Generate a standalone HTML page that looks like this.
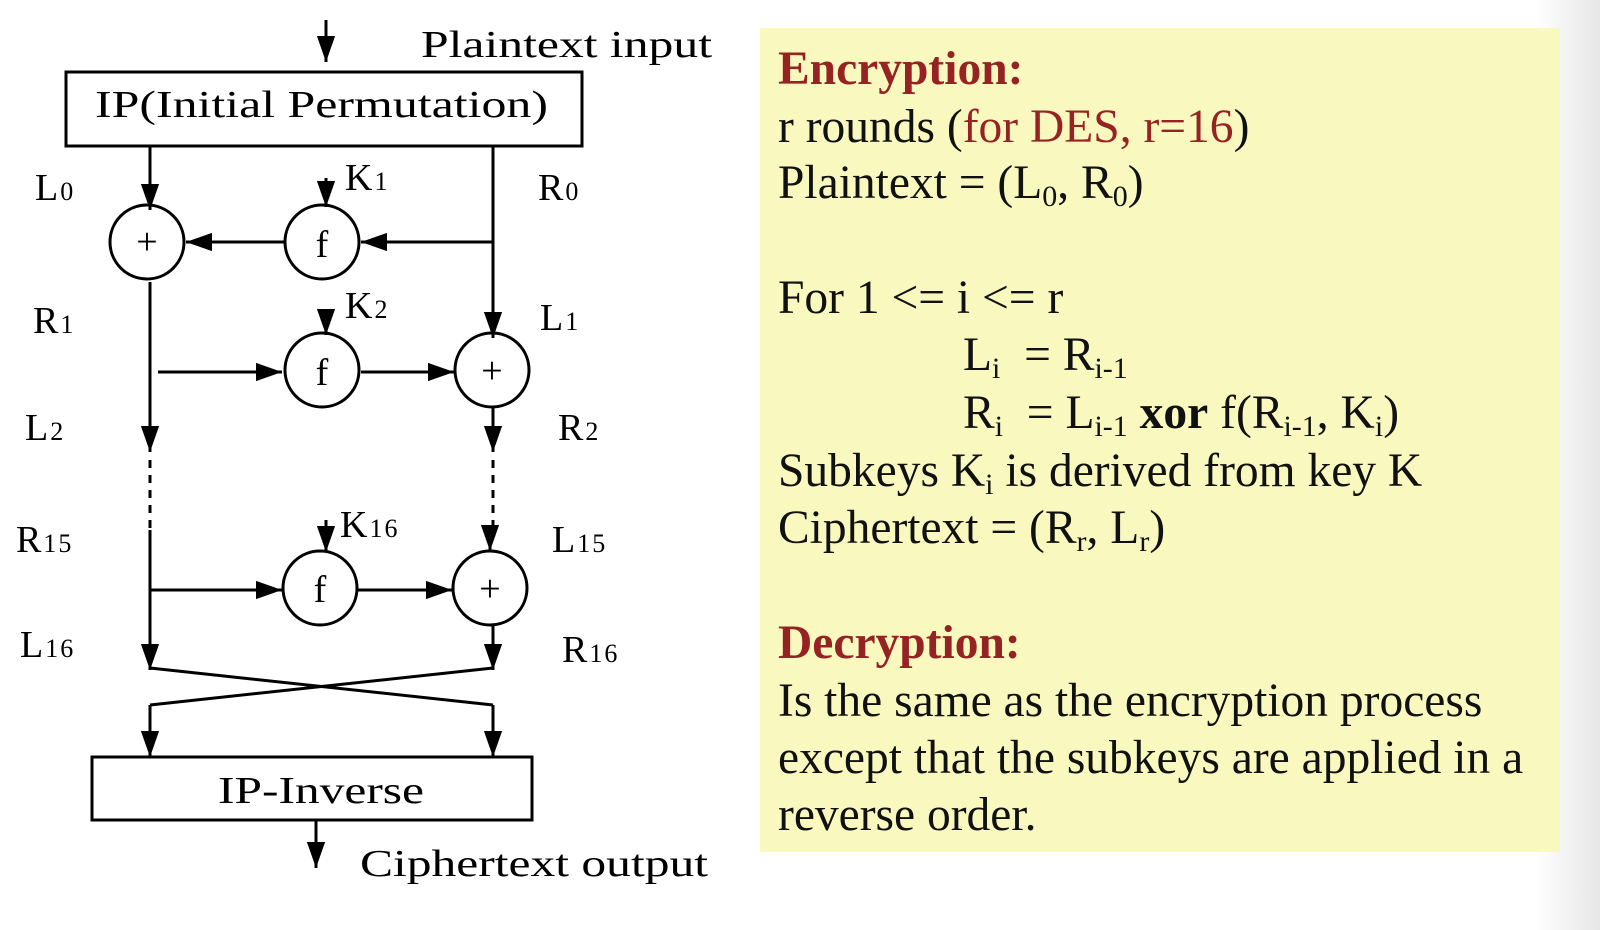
<!DOCTYPE html>
<html><head><meta charset="utf-8"><style>
body{margin:0;width:1600px;height:930px;background:#fff;overflow:hidden;position:relative;font-family:"Liberation Serif",serif}
#shade{position:absolute;left:1535px;top:0;width:65px;height:930px;background:linear-gradient(to right,#fff,#e6e6e6)}
#box{position:absolute;left:760px;top:28px;width:800px;height:824px;background:#f9f9bf}
.t{position:absolute;left:778px;font-size:47.5px;color:#111;white-space:nowrap;line-height:1}
.red{color:#962323}
.h{font-weight:bold;color:#962323}
sub{font-size:30px;vertical-align:-8px;line-height:0}
</style></head><body>
<div id="shade"></div>
<div id="box"></div>
<div class="t h" style="top:46px">Encryption:</div>
<div class="t" style="top:104px">r rounds (<span class="red">for DES, r=16</span>)</div>
<div class="t" style="top:160px">Plaintext = (L<sub>0</sub>, R<sub>0</sub>)</div>
<div class="t" style="top:275px">For 1 &lt;= i &lt;= r</div>
<div class="t" style="top:332px;left:963px">L<sub>i</sub>&nbsp; = R<sub>i-1</sub></div>
<div class="t" style="top:390px;left:963px">R<sub>i</sub>&nbsp; = L<sub>i-1</sub> <b>xor</b> f(R<sub>i-1</sub>, K<sub>i</sub>)</div>
<div class="t" style="top:448px">Subkeys K<sub>i</sub> is derived from key K</div>
<div class="t" style="top:505px">Ciphertext = (R<sub>r</sub>, L<sub>r</sub>)</div>
<div class="t h" style="top:620px">Decryption:</div>
<div class="t" style="top:678px">Is the same as the encryption process</div>
<div class="t" style="top:735px">except that the subkeys are applied in a</div>
<div class="t" style="top:792px">reverse order.</div>

<svg width="760" height="930" style="position:absolute;left:0;top:0">
<defs>
<marker id="b" viewBox="0 0 10 10" refX="10" refY="5" markerWidth="26" markerHeight="26" markerUnits="userSpaceOnUse" orient="auto"><path d="M0,1.5L10,5L0,8.5z" fill="#000"/></marker></defs>
<g stroke="#000" stroke-width="3" fill="none">
<line x1="326" y1="20" x2="326" y2="62" marker-end="url(#b)"/>
<rect x="66" y="72" width="516" height="74"/>
<line x1="150" y1="146" x2="150" y2="210" marker-end="url(#b)"/>
<line x1="493" y1="146" x2="493" y2="338" marker-end="url(#b)"/>
<circle cx="147" cy="242" r="37"/><circle cx="322" cy="242" r="37"/>
<line x1="326" y1="178" x2="326" y2="207" marker-end="url(#b)"/>
<line x1="493" y1="242" x2="361" y2="242" marker-end="url(#b)"/>
<line x1="284" y1="242" x2="186" y2="242" marker-end="url(#b)"/>
<line x1="150" y1="282" x2="150" y2="452" marker-end="url(#b)"/>
<line x1="158" y1="372" x2="282" y2="372" marker-end="url(#b)"/>
<circle cx="322" cy="370" r="37"/><circle cx="492" cy="370" r="37"/>
<line x1="326" y1="310" x2="326" y2="335" marker-end="url(#b)"/>
<line x1="361" y1="372" x2="454" y2="372" marker-end="url(#b)"/>
<line x1="493" y1="407" x2="493" y2="452" marker-end="url(#b)"/>
<line x1="150" y1="460" x2="150" y2="530" stroke-dasharray="8,7"/>
<line x1="493" y1="460" x2="493" y2="530" stroke-dasharray="8,7"/>
<line x1="326" y1="520" x2="326" y2="552" marker-end="url(#b)"/>
<circle cx="320" cy="588" r="37"/><circle cx="490" cy="588" r="37"/>
<line x1="490" y1="530" x2="490" y2="551" marker-end="url(#b)"/>
<line x1="150" y1="530" x2="150" y2="670" marker-end="url(#b)"/>
<line x1="150" y1="590" x2="282" y2="590" marker-end="url(#b)"/>
<line x1="358" y1="590" x2="452" y2="590" marker-end="url(#b)"/>
<line x1="493" y1="625" x2="493" y2="670" marker-end="url(#b)"/>
<line x1="150" y1="668" x2="493" y2="705"/><line x1="493" y1="668" x2="150" y2="705"/>
<line x1="150" y1="705" x2="150" y2="757" marker-end="url(#b)"/>
<line x1="493" y1="705" x2="493" y2="757" marker-end="url(#b)"/>
<rect x="92" y="757" width="440" height="63"/>
<line x1="316" y1="820" x2="316" y2="868" marker-end="url(#b)"/>
</g>
<g font-family="Liberation Serif,serif" fill="#000" font-size="38">
<text x="421" y="57" textLength="291" lengthAdjust="spacingAndGlyphs">Plaintext input</text>
<text x="95" y="117" textLength="453" lengthAdjust="spacingAndGlyphs">IP(Initial Permutation)</text>
<text x="218" y="803" textLength="206" lengthAdjust="spacingAndGlyphs">IP-Inverse</text>
<text x="360" y="876" textLength="348" lengthAdjust="spacingAndGlyphs">Ciphertext output</text>
<g font-size="38" text-anchor="middle"><text x="147" y="254">+</text><text x="322" y="257">f</text><text x="322" y="385">f</text><text x="492" y="383">+</text><text x="320" y="602">f</text><text x="490" y="601">+</text></g>
<g font-size="38" letter-spacing="2">
<text x="345" y="190">K<tspan font-size="26">1</tspan></text>
<text x="345" y="318">K<tspan font-size="26">2</tspan></text>
<text x="340" y="537">K<tspan font-size="26">16</tspan></text>
<text x="35" y="200">L<tspan font-size="26">0</tspan></text>
<text x="538" y="200">R<tspan font-size="26">0</tspan></text>
<text x="33" y="333">R<tspan font-size="26">1</tspan></text>
<text x="540" y="330">L<tspan font-size="26">1</tspan></text>
<text x="25" y="440">L<tspan font-size="26">2</tspan></text>
<text x="558" y="440">R<tspan font-size="26">2</tspan></text>
<text x="16" y="552">R<tspan font-size="26">15</tspan></text>
<text x="552" y="552">L<tspan font-size="26">15</tspan></text>
<text x="20" y="657">L<tspan font-size="26">16</tspan></text>
<text x="562" y="662">R<tspan font-size="26">16</tspan></text>
</g></g>
</svg>
</body></html>
